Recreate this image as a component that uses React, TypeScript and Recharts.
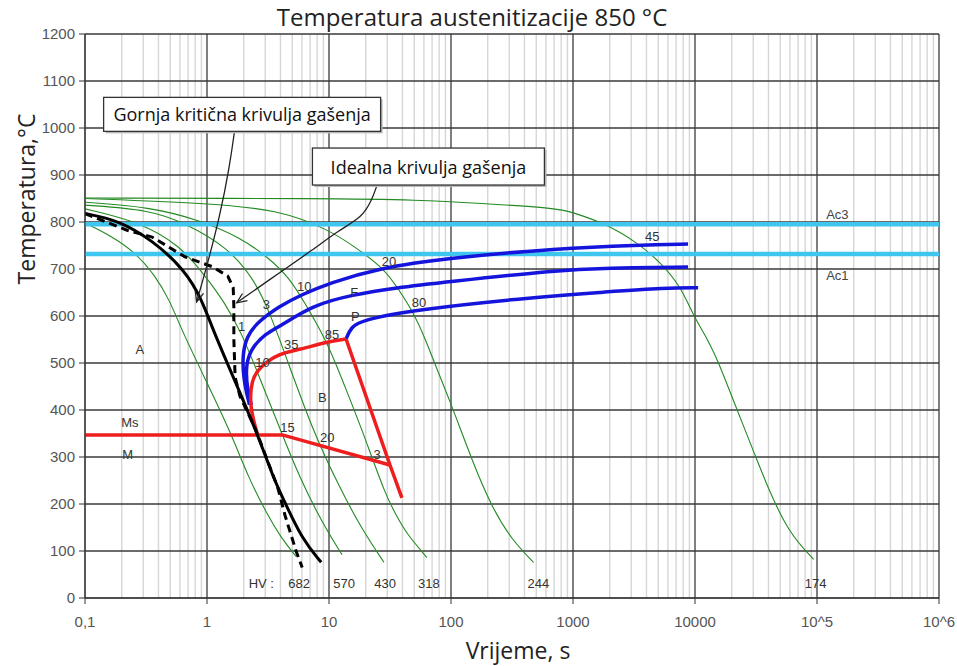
import React from "react";
import {
  LineChart,
  Line,
  XAxis,
  YAxis,
  CartesianGrid,
  ReferenceLine,
  ReferenceDot,
} from "recharts";

// axes
const xTicks = [0.1, 1, 10, 100, 1000, 10000, 100000, 1000000];
const xTickLabels = ["0,1", "1", "10", "100", "1000", "10000", "10^5", "10^6"];
const yTicks = [0, 100, 200, 300, 400, 500, 600, 700, 800, 900, 1000, 1100, 1200];
const xMinor = xTicks.slice(0, -1).flatMap((d) => [2, 3, 4, 5, 6, 7, 8, 9].map((m) => d * m));

// Ac3 / Ac1
const acTemps = [795, 732];
const acNames = ["Ac3", "Ac1"];

// cooling curves, time in s, temperature in °C
const hv682Time = [0.1, 0.16, 0.257, 0.373, 0.494, 0.62, 0.975, 1.53, 2.23, 3.07, 4.15, 5.4];
const hv682Temp = [798, 772, 736, 687, 634, 570, 464, 358, 251, 181, 124, 88];
const hv570Time = [0.1, 0.281, 0.597, 0.956, 1.39, 1.95, 2.54, 4.15, 5.71, 8.79, 12.8];
const hv570Temp = [828, 800, 751, 687, 630, 560, 486, 347, 258, 160, 92];
const hv430Time = [0.1, 0.34, 0.656, 1.47, 2.45, 3.24, 4.3, 7.3, 12.1, 18.7, 28.2];
const hv430Temp = [836, 826, 798, 747, 677, 609, 524, 358, 237, 145, 76];
const hv318Time = [0.1, 0.34, 0.871, 1.85, 3.24, 4.73, 6.27, 9.66, 13.3, 18.7, 29.3, 37.5, 42.8, 63.4];
const hv318Temp = [842, 832, 804, 768, 723, 681, 630, 545, 454, 358, 215, 166, 139, 86];
const hv244Time = [0.1, 1.01, 3.92, 10.0, 15.5, 28.2, 37.5, 47.9, 62.2, 75.2, 99.6, 148, 215, 314, 475];
const hv244Temp = [850, 840, 826, 783, 751, 702, 655, 613, 549, 492, 415, 294, 194, 124, 76];
const hv174Time = [0.1, 10, 54.6, 169, 760, 970, 1840, 3420, 5270, 7670, 9620, 12800, 15700, 21600, 31500, 40300, 58600, 93800];
const hv174Temp = [851, 850, 847, 840, 829, 821, 797, 755, 713, 662, 602, 549, 500, 407, 300, 230, 139, 82];

// critical cooling curves
const upperTime = [0.1, 0.186, 0.355, 0.66, 0.912, 1.12, 1.68, 2.51, 3.56, 4.15, 6.03, 8.63];
const upperTemp = [818, 804, 762, 698, 634, 570, 464, 358, 251, 215, 124, 76];
const idealTime = [0.1, 0.224, 0.355, 0.66, 1.1, 1.48, 1.64, 1.66, 1.66, 1.7, 1.86, 2.51, 3.8, 4.37, 5.37, 6.03];
const idealTemp = [818, 782, 768, 726, 705, 685, 660, 620, 550, 470, 430, 358, 235, 175, 100, 65];

// transformation lines
const fStartTime = [2.23, 1.99, 1.95, 2.11, 2.54, 3.92, 5.93, 10.0, 25.7, 90.6, 760, 3420, 8770];
const fStartTemp = [411, 464, 517, 555, 585, 621, 645, 670, 702, 723, 744, 751, 753];
const pStartTime = [2.31, 2.15, 2.07, 2.23, 3.07, 3.92, 7.3, 15.5, 35.4, 90.6, 760, 1840, 8770];
const pStartTemp = [411, 443, 486, 528, 564, 577, 623, 645, 660, 672, 698, 702, 704];
const pEndTime = [13.8, 15.2, 18.7, 47.9, 521, 1840, 5690, 10600];
const pEndTemp = [551, 577, 591, 613, 641, 651, 660, 660];
const msTime = [0.1, 4.15, 31.6];
const msTemp = [347, 347, 283];
const bStartTime = [2.6, 2.23, 2.31, 2.69, 3.92, 5.71, 9.5, 13.8];
const bStartTemp = [347, 407, 464, 491, 521, 528, 545, 551];
const bEndTime = [13.8, 31.6, 39.6];
const bEndTemp = [551, 283, 213];

// callout arrows
const arrow1Time = [1.68, 1.53, 1.27, 0.993, 0.822];
const arrow1Temp = [993, 917, 810, 704, 630];
const arrow2Time = [24.8, 22.5, 18.7, 12.1, 7.3, 3.92, 1.75];
const arrow2Temp = [879, 847, 810, 783, 740, 692, 628];

// callout boxes
const boxText = ["Gornja kritična krivulja gašenja", "Idealna krivulja gašenja"];
const boxTime = [1.94, 65.3];
const boxTemp = [1029, 918];

// labels inside the plot
const noteText = ["A", "Ms", "M", "B", "1", "3", "10", "20", "F", "P", "80", "85", "35", "10", "15", "20", "3", "45"];
const noteTime = [0.281, 0.233, 0.224, 8.8, 1.92, 3.07, 6.27, 31, 16.1, 16.4, 54.6, 10.6, 4.91, 2.85, 4.56, 9.66, 24.8, 4460];
const noteTemp = [528, 373, 305, 426, 577, 624, 662, 715, 649, 600, 628, 560, 539, 502, 362, 341, 305, 770];

const hvText = ["HV :", "682", "570", "430", "318", "244", "174"];
const hvTime = [2.79, 5.7, 13.3, 28.8, 65.9, 521, 97500];
const hvTemp = [30, 30, 30, 30, 30, 30, 30];

const zip = (t: number[], T: number[]) => t.map((v, i) => ({ t: v, T: T[i] }));

const green = [
  zip(hv682Time, hv682Temp),
  zip(hv570Time, hv570Temp),
  zip(hv430Time, hv430Temp),
  zip(hv318Time, hv318Temp),
  zip(hv244Time, hv244Temp),
  zip(hv174Time, hv174Temp),
];

const smallFont = '"Liberation Sans", Arial, sans-serif';
const bigFont = '"Open Sans", sans-serif';

const minorGrid = (args: any) => {
  const scale = args?.xAxis?.scale;
  if (typeof scale === "function") return xMinor.map((v) => scale(v));
  const o = args.offset;
  return xMinor.map((v) => o.left + ((Math.log10(v) + 1) / 7) * o.width);
};

const arrowHead = (props: any) => {
  const { cx, cy, index, points } = props;
  if (!points || index !== points.length - 1) return <g key={`a${index}`} />;
  const prev = points[index - 1];
  const ang = Math.atan2(cy - prev.y, cx - prev.x);
  const L = 11;
  const a1 = ang + Math.PI - 0.4;
  const a2 = ang + Math.PI + 0.4;
  return (
    <polyline
      key={`a${index}`}
      points={`${cx + L * Math.cos(a1)},${cy + L * Math.sin(a1)} ${cx},${cy} ${cx + L * Math.cos(a2)},${cy + L * Math.sin(a2)}`}
      fill="none"
      stroke="#222"
      strokeWidth={1.3}
    />
  );
};

const textShape = (text: string, size = 13, fill = "#333") => (p: any) =>
  (
    <text
      x={p.cx}
      y={p.cy}
      textAnchor="middle"
      dominantBaseline="central"
      fontSize={size}
      fontFamily={smallFont}
      fill={fill}
    >
      {text}
    </text>
  );

const boxShape = (text: string) => (p: any) => {
  const w = text.length > 26 ? 277 : 232;
  const h = text.length > 26 ? 34 : 37;
  return (
    <g>
      <rect x={p.cx - w / 2 + 2} y={p.cy - h / 2 + 2} width={w} height={h} fill="#bbb" />
      <rect x={p.cx - w / 2} y={p.cy - h / 2} width={w} height={h} fill="#fff" stroke="#333" strokeWidth={1.3} />
      <text x={p.cx} y={p.cy} textAnchor="middle" dominantBaseline="central" fontSize={18} fontFamily={bigFont} fill="#111">
        {text}
      </text>
    </g>
  );
};

function App() {
  return (
    <div
      style={{
        position: "fixed",
        left: 0,
        top: 0,
        width: 957,
        height: 666,
        background: "#fff",
        fontFamily: bigFont,
      }}
    >
      <div style={{ position: "absolute", left: 0, width: 944, top: 3, textAlign: "center", fontSize: 24, color: "#222", lineHeight: "28px" }}>
        Temperatura austenitizacije 850 °C
      </div>
      <div
        style={{
          position: "absolute",
          left: 26,
          top: 199,
          transform: "translate(-50%, -50%) rotate(-90deg)",
          fontSize: 23,
          color: "#222",
          whiteSpace: "nowrap",
        }}
      >
        Temperatura,°C
      </div>
      <div style={{ position: "absolute", left: 518, top: 650, transform: "translate(-50%, -50%)", fontSize: 23, color: "#222", whiteSpace: "nowrap" }}>
        Vrijeme, s
      </div>

      <LineChart width={957} height={666} margin={{ top: 34, right: 18, left: 25, bottom: 38 }}>
        <CartesianGrid horizontal={false} stroke="#d6d6d6" strokeWidth={1.4} verticalCoordinatesGenerator={minorGrid} />
        <CartesianGrid stroke="#3a3a3a" strokeWidth={1.3} />
        <XAxis
          dataKey="t"
          type="number"
          scale="log"
          domain={[0.1, 1000000]}
          allowDataOverflow
          ticks={xTicks}
          tickFormatter={(v: number) => xTickLabels[xTicks.indexOf(v)] ?? String(v)}
          height={30}
          tickSize={6}
          tickMargin={12}
          stroke="#333"
          tick={{ fill: "#555", fontSize: 15, fontFamily: smallFont }}
        />
        <YAxis
          type="number"
          domain={[0, 1200]}
          ticks={yTicks}
          width={60}
          tickSize={6}
          tickMargin={4}
          stroke="#333"
          tick={{ fill: "#555", fontSize: 15, fontFamily: smallFont }}
        />

        {green.map((d, i) => (
          <Line
            key={`g${i}`}
            data={d}
            dataKey="T"
            type="basis"
            stroke="#238a23"
            strokeWidth={1.1}
            dot={false}
            activeDot={false}
            isAnimationActive={false}
          />
        ))}

        {acTemps.map((v, i) => (
          <ReferenceLine key={`ac${i}`} y={v} stroke="#3fc6ef" strokeWidth={4.5} />
        ))}

        <Line data={zip(fStartTime, fStartTemp)} dataKey="T" type="basis" stroke="#1414dc" strokeWidth={3.5} dot={false} activeDot={false} isAnimationActive={false} />
        <Line data={zip(pStartTime, pStartTemp)} dataKey="T" type="basis" stroke="#1414dc" strokeWidth={3.5} dot={false} activeDot={false} isAnimationActive={false} />
        <Line data={zip(pEndTime, pEndTemp)} dataKey="T" type="basis" stroke="#1414dc" strokeWidth={3.5} dot={false} activeDot={false} isAnimationActive={false} />

        <Line data={zip(msTime, msTemp)} dataKey="T" type="linear" stroke="#ee1e1e" strokeWidth={3.5} dot={false} activeDot={false} isAnimationActive={false} />
        <Line data={zip(bStartTime, bStartTemp)} dataKey="T" type="basis" stroke="#ee1e1e" strokeWidth={3.5} dot={false} activeDot={false} isAnimationActive={false} />
        <Line data={zip(bEndTime, bEndTemp)} dataKey="T" type="linear" stroke="#ee1e1e" strokeWidth={3.5} dot={false} activeDot={false} isAnimationActive={false} />

        <Line data={zip(upperTime, upperTemp)} dataKey="T" type="basis" stroke="#000" strokeWidth={3} dot={false} activeDot={false} isAnimationActive={false} />
        <Line data={zip(idealTime, idealTemp)} dataKey="T" type="linear" stroke="#000" strokeWidth={3} strokeDasharray="8 5" dot={false} activeDot={false} isAnimationActive={false} />

        <Line data={zip(arrow1Time, arrow1Temp)} dataKey="T" type="basis" stroke="#222" strokeWidth={1.3} dot={arrowHead} activeDot={false} isAnimationActive={false} />
        <Line data={zip(arrow2Time, arrow2Temp)} dataKey="T" type="basis" stroke="#222" strokeWidth={1.3} dot={arrowHead} activeDot={false} isAnimationActive={false} />

        {noteText.map((s, i) => (
          <ReferenceDot key={`n${i}`} x={noteTime[i]} y={noteTemp[i]} r={0} shape={textShape(s)} />
        ))}
        {hvText.map((s, i) => (
          <ReferenceDot key={`h${i}`} x={hvTime[i]} y={hvTemp[i]} r={0} shape={textShape(s)} />
        ))}
        {acNames.map((s, i) => (
          <ReferenceDot key={`an${i}`} x={147000} y={acTemps[i] + (i === 0 ? 22 : -45)} r={0} shape={textShape(s, 13, "#444")} />
        ))}
        {boxText.map((s, i) => (
          <ReferenceDot key={`b${i}`} x={boxTime[i]} y={boxTemp[i]} r={0} shape={boxShape(s)} />
        ))}
      </LineChart>
    </div>
  );
}

export default App;
